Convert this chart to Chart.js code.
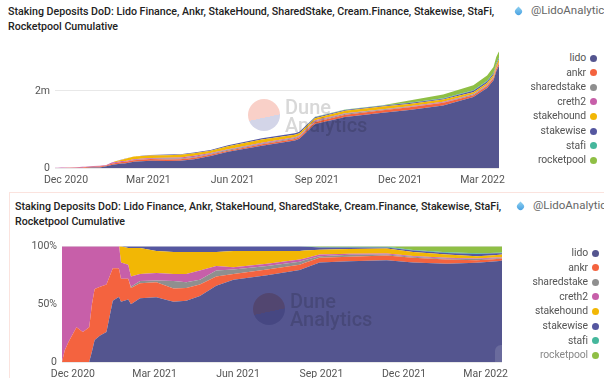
<!DOCTYPE html>
<html>
<head>
<meta charset="utf-8">
<script src="https://cdn.jsdelivr.net/npm/chart.js@4"></script>
<style>
  html, body { margin: 0; padding: 0; background: #fff; overflow: hidden; }
  body { width: 604px; height: 378px; position: relative; font-family: Roboto, sans-serif; }
  canvas { position: absolute; left: 0; }
  .title { position: absolute; font-size: 10.65px; line-height: 15px; font-weight: 500; color: #222; white-space: nowrap; }
  .author { position: absolute; font-size: 11.5px; color: #666; white-space: nowrap; }
  .drop { position: absolute; width: 7px; height: 7px; border-radius: 50% 0 50% 50%; transform: rotate(-45deg); background: linear-gradient(45deg, #3f9be0, #8fd0f0); }
  .frame { position: absolute; left: 9px; top: 192px; width: 600px; height: 190px; border: 1px solid #fbe3de; box-sizing: border-box; }
  .legend-row { position: absolute; font-size: 10.4px; letter-spacing: -.1px; line-height: 14px; color: #555; text-align: right; white-space: nowrap; }
  .legend-dot { position: absolute; width: 7px; height: 7px; border-radius: 50%; }
  .mark { position: absolute; font-size: 20px; line-height: 18px; font-weight: 500; color: #d8d8d8; mix-blend-mode: multiply; pointer-events: none; }
  .logo { position: absolute; width: 32px; height: 32px; border-radius: 50%; mix-blend-mode: multiply; background: linear-gradient(168deg, #f9d0c8 0 57%, #d3d5e8 57% 100%); pointer-events: none; }
  .blob { position: absolute; left: 495px; top: 345px; width: 7px; height: 17px; border-radius: 6px 0 0 0; background: rgba(255,255,255,.13); }
</style>
</head>
<body>
<div class="frame"></div>
<div class="title" style="left:8px;top:4px">Staking Deposits DoD: Lido Finance, Ankr, StakeHound, SharedStake, Cream.Finance, Stakewise, StaFi,<br>Rocketpool Cumulative</div>
<div class="drop" style="left:515px;top:8px"></div>
<div class="author" style="left:531px;top:3px">@LidoAnalytica</div>
<canvas id="topChart" width="540" height="150" style="top:40px;width:540px;height:150px"></canvas>
<div class="title" style="left:15px;top:199px">Staking Deposits DoD: Lido Finance, Ankr, StakeHound, SharedStake, Cream.Finance, Stakewise, StaFi,<br>Rocketpool Cumulative</div>
<div class="drop" style="left:517px;top:203px"></div>
<div class="author" style="left:533px;top:198px">@LidoAnalytica</div>
<canvas id="shareChart" width="540" height="143" style="top:235px;width:540px;height:143px"></canvas>
<div class="blob"></div>
<div id="legends"></div>
<script>
// days since 1 Dec 2020
const days = [-12,-9,-5,4,11,18,21,24,30,37,44,50,51,53,61,64,74,92,111,125,140,158,177,214,250,255,272,305,346,375,412,445,460,467,470,473];

// total deposits, millions
const totals = [.004,.006,.01,.015,.02,.03,.035,.04,.05,.06,.08,.14,.15,.17,.22,.24,.30,.34,.35,.36,.40,.47,.59,.77,.90,.94,1.33,1.52,1.63,1.75,1.91,2.15,2.4,2.62,2.88,3.03];

// share of total in percent
const lido = [0,0,0,0,0,0,9,19,23,26,53,56,56,52,54,50,55,56,52,53,57,66,71,75,79.5,81,86,87,88,86,85,85.8,86.6,87,87.3,87.7];
const ankr = [0,10,17,30,26,30,41,44,42,41,28,25,24,20,18,14,13,13,11.5,11,10,8,5,5,4.5,4.5,4,4,4,4,3.6,2.2,2,2,1.9,1.8];
const sharedstake = [0,0,0,0,0,0,0,0,0,0,0,0,0,0,0,1,2,1.5,6.5,5,4,5,4,3,2.6,2.5,1.5,1.6,1,1,.6,1,.6,.6,.6,.5];
const creth2 = [100,90,83,70,74,70,50,37,35,33,19,19,20,14,12,9,6,6.5,6,7,8,4,2,2,2,1.5,1.5,.9,.7,.7,.8,.5,.8,.7,.6,.6];
const stakehound = [0,0,0,0,0,0,0,0,0,0,0,0,0,14,14.5,24.5,22.5,19,19,19,16,12,14,11,7.4,6.8,4,4.2,4.3,3.3,3,2,2,2.2,2.4,2.4];
const stakewise = [0,0,0,0,0,0,0,0,0,0,0,0,0,0,1.5,1.5,1.5,4,5,5,5,5,4,4,4,3.5,2,1.3,1,1.3,1.3,1.9,1.7,1.4,1.2,1];
const stafi = [0,0,0,0,0,0,0,0,0,0,0,0,0,0,0,0,0,0,0,0,0,0,0,0,0,.2,.5,.6,.7,.6,.6,.6,.6,.6,.5,.6];
const rocketpool = [0,0,0,0,0,0,0,0,0,0,0,0,0,0,0,0,0,0,0,0,0,0,0,0,0,0,.5,.4,.3,3.1,5.1,6,5.7,5.5,5.5,5.4];

const seriesNames = ['lido','ankr','sharedstake','creth2','stakehound','stakewise','stafi','rocketpool'];
const seriesShares = [lido,ankr,sharedstake,creth2,stakehound,stakewise,stafi,rocketpool];
const seriesColors = ['#54558f','#f4633f','#8f8f8f','#c75fa9','#f2b705','#5557a0','#45b79c','#8fbf45'];

const tickDays = [0,90,182,274,365,455];
const tickNames = ['Dec 2020','Mar 2021','Jun 2021','Sep 2021','Dec 2021','Mar 2022'];

function buildDatasets(toValue) {
  return seriesNames.map((name, s) => ({
    label: name,
    data: days.map((d, i) => ({ x: d, y: toValue(seriesShares[s][i], i) })),
    backgroundColor: seriesColors[s],
    borderColor: seriesColors[s],
    borderWidth: 0,
    pointRadius: 0,
    fill: s === 0 ? 'origin' : '-1'
  }));
}

function makeChart(id, datasets, opts) {
  return new Chart(document.getElementById(id), {
    type: 'line',
    data: { datasets },
    options: {
      responsive: false,
      animation: false,
      layout: { padding: { top: opts.top, right: opts.right } },
      plugins: { legend: { display: false }, tooltip: { enabled: false } },
      scales: {
        x: {
          type: 'linear',
          min: -12,
          max: 473,
          grid: { display: false, drawTicks: false },
          border: { display: false },
          afterBuildTicks: a => { a.ticks = tickDays.map(v => ({ value: v })); },
          afterFit: a => { a.height = opts.xHeight; },
          ticks: {
            padding: 6,
            maxRotation: 0,
            autoSkip: false,
            color: '#555',
            font: { family: 'Roboto', size: 10.5 },
            callback: v => tickNames[tickDays.indexOf(v)]
          }
        },
        y: {
          stacked: true,
          min: 0,
          max: opts.max,
          grid: { color: '#e8e8e8', drawTicks: false },
          border: { display: false },
          afterBuildTicks: a => { a.ticks = opts.yTicks.map(v => ({ value: v })); },
          afterFit: a => { a.width = opts.left; },
          ticks: {
            padding: 5,
            color: '#555',
            font: { family: 'Roboto', size: 10.5 },
            callback: opts.yLabel
          }
        }
      }
    }
  });
}

makeChart('topChart', buildDatasets((v, i) => v * totals[i] / 100), {
  top: 10, right: 41, left: 55, xHeight: 22, max: 3.03, yTicks: [0, 2],
  yLabel: v => v === 0 ? '0' : v + 'm'
});

makeChart('shareChart', buildDatasets(v => v), {
  top: 10, right: 38, left: 62, xHeight: 16, max: 100, yTicks: [0, 50, 100],
  yLabel: v => v === 0 ? '0' : v + '%'
});

// legends and watermark sit on top as plain text
const legends = document.getElementById('legends');
function addLegend(firstY, textRight, lastColor) {
  seriesNames.forEach((name, i) => {
    const y = firstY + i * 14.6;
    const row = document.createElement('div');
    row.className = 'legend-row';
    row.style.right = (604 - textRight) + 'px';
    row.style.top = (y - 7) + 'px';
    row.textContent = name;
    if (lastColor && i === seriesNames.length - 1) row.style.color = lastColor;
    const dot = document.createElement('div');
    dot.className = 'legend-dot';
    dot.style.left = (textRight + 4) + 'px';
    dot.style.top = (y - 3.5) + 'px';
    dot.style.background = seriesColors[i];
    legends.appendChild(row);
    legends.appendChild(dot);
  });
}
addLegend(58, 586);
addLegend(253, 588, '#888');

function addMark(x, y) {
  const logo = document.createElement('div');
  logo.className = 'logo';
  logo.style.left = (x - 16) + 'px';
  logo.style.top = (y - 16) + 'px';
  const text = document.createElement('div');
  text.className = 'mark';
  text.style.left = (x + 21) + 'px';
  text.style.top = (y - 17) + 'px';
  text.innerHTML = 'Dune<br>Analytics';
  legends.appendChild(logo);
  legends.appendChild(text);
}
addMark(264, 115);
addMark(269, 309);
</script>
</body>
</html>
